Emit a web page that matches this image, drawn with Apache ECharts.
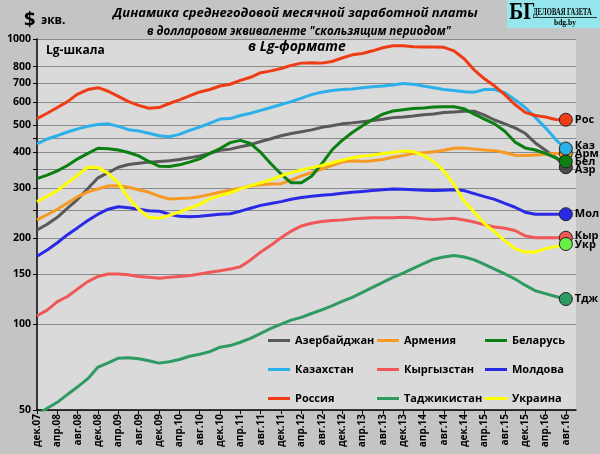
<!DOCTYPE html>
<html>
<head>
<meta charset="utf-8">
<script src="https://cdn.jsdelivr.net/npm/echarts@6.0.0/dist/echarts.min.js"></script>
<style>
  html, body { margin: 0; padding: 0; background: #c4c4c4; }
  #chart { width: 600px; height: 454px; }
</style>
</head>
<body>
<div id="chart"></div>
<script>
// категории: каждые 2 месяца, дек.07 ... авг.16 (+ одна пустая в конце)
var monthNames = ['дек', 'фев', 'апр', 'июн', 'авг', 'окт'];
var categories = [];
for (var i = 0; i < 54; i++) {
  var yy = 7 + Math.ceil(i / 6);
  categories.push(monthNames[i % 6] + '.' + (yy < 10 ? '0' + yy : yy));
}

// шкала Y (логарифм)
var gridTicks = [50, 100, 150, 200, 250, 300, 350, 400, 450, 500, 600, 700, 800, 1000];
var yLabels = [50, 100, 150, 200, 300, 400, 500, 600, 700, 800, 1000];

// данные, $ в месяц
var azer = [214, 224, 237, 255, 274, 299, 326, 340, 355, 363,
  367, 370, 372, 374, 378, 383, 389, 397, 407, 411,
  419, 426, 437, 447, 458, 466, 473, 480, 490, 496,
  504, 508, 513, 518, 523, 530, 533, 537, 542, 546,
  552, 555, 558, 558, 541, 520, 504, 488, 467, 432,
  407, 384, 355];
var arm = [232, 242, 253, 266, 280, 291, 298, 305, 306, 302,
  296, 290, 281, 275, 276, 277, 280, 285, 290, 295,
  300, 305, 308, 310, 311, 320, 331, 340, 350, 360,
  370, 374, 372, 374, 378, 385, 390, 397, 399, 402,
  407, 414, 415, 411, 408, 406, 400, 391, 390, 392,
  394, 397, 397];
var bel = [324, 333, 345, 360, 380, 397, 414, 412, 408, 400,
  389, 372, 358, 357, 362, 370, 380, 397, 413, 433,
  441, 430, 400, 365, 336, 313, 313, 330, 365, 408,
  441, 470, 496, 522, 545, 559, 565, 570, 573, 577,
  579, 579, 569, 545, 524, 504, 475, 435, 415, 408,
  397, 383, 372];
var kaz = [429, 446, 458, 472, 484, 494, 501, 504, 494, 481,
  476, 467, 458, 454, 463, 478, 491, 507, 524, 526,
  539, 549, 562, 575, 589, 603, 620, 638, 651, 660,
  665, 668, 675, 680, 684, 690, 698, 694, 684, 675,
  665, 660, 653, 651, 665, 665, 648, 612, 575, 531,
  488, 444, 413];
var kyr = [107, 112, 120, 125, 133, 141, 147, 150, 150, 149,
  147, 146, 145, 146, 147, 148, 150, 152, 154, 156,
  159, 168, 179, 189, 201, 212, 221, 226, 229, 231,
  232, 234, 235, 236, 236, 236, 237, 236, 234, 233,
  234, 235, 232, 228, 223, 219, 217, 213, 204, 201,
  201, 201, 201];
var mol = [173, 182, 193, 206, 218, 231, 243, 253, 258, 256,
  253, 250, 249, 243, 239, 238, 239, 241, 243, 244,
  249, 255, 261, 265, 269, 274, 278, 281, 283, 285,
  288, 290, 292, 294, 296, 298, 297, 296, 295, 294,
  295, 296, 294, 287, 280, 274, 265, 257, 247, 243,
  243, 243, 243];
var rus = [526, 549, 575, 603, 641, 665, 675, 656, 629, 603,
  585, 572, 575, 594, 612, 632, 652, 665, 684, 694,
  716, 734, 762, 773, 788, 808, 823, 825, 823, 834,
  858, 880, 889, 909, 932, 947, 947, 940, 938, 938,
  935, 909, 853, 778, 725, 684, 638, 589, 553, 539,
  533, 522, 521];
var taj = [48, 50.7, 53.2, 56.7, 60.3, 64.4, 70.7, 73.2, 76, 76.2,
  75.6, 74.4, 73, 73.8, 75.2, 77.2, 78.4, 80.1, 83, 84.1,
  86.4, 89.2, 92.8, 96.6, 100, 103.3, 105.6, 109, 112.3, 116,
  120.2, 124.2, 129.3, 134.6, 140.2, 146, 151, 157, 163, 169,
  172, 174, 172, 168, 162, 156, 150, 144, 137, 131,
  128, 125, 122.5];
var ukr = [269, 281, 294, 313, 333, 355, 354, 338, 313, 277,
  253, 237, 235, 241, 247, 255, 263, 275, 283, 289,
  298, 306, 313, 321, 331, 340, 347, 354, 360, 368,
  376, 383, 388, 391, 397, 400, 405, 403, 391, 372,
  344, 309, 270, 247, 225, 211, 196, 184, 179, 179,
  184, 187, 191];

var font = '"Open Sans", "Noto Sans", sans-serif';

function makeSeries(name, color, values, shortName, markerColor, dy) {
  var last = values.length - 1;
  return {
    name: name,
    type: 'line',
    data: values,
    symbol: 'none',
    lineStyle: { color: color, width: 3 },
    itemStyle: { color: color },
    markPoint: {
      symbol: 'circle',
      symbolSize: 13,
      silent: true,
      itemStyle: { color: markerColor, borderColor: '#222', borderWidth: 1 },
      label: {
        show: true, position: 'right', distance: 2,
        formatter: shortName, color: '#000',
        fontWeight: 'bold', fontSize: 11, fontFamily: font,
        offset: [0, dy]
      },
      data: [{ coord: [categories[last], values[last]] }]
    }
  };
}

var chart = echarts.init(document.getElementById('chart'));

var legendText = { color: '#000', fontWeight: 'bold', fontSize: 11, fontFamily: font };
function legendCol(names, left) {
  return {
    data: names, left: left, top: 335, orient: 'vertical',
    icon: 'rect', itemWidth: 22, itemHeight: 3, itemGap: 18, padding: 0,
    selectedMode: false, textStyle: legendText
  };
}

chart.setOption({
  backgroundColor: '#c4c4c4',
  animation: false,
  grid: {
    left: 37, right: 24, top: 39, bottom: 44,
    show: true, backgroundColor: '#dadada', borderWidth: 0
  },
  legend: [
    legendCol(['Азербайджан', 'Казахстан', 'Россия'], 268),
    legendCol(['Армения', 'Кыргызстан', 'Таджикистан'], 377),
    legendCol(['Беларусь', 'Молдова', 'Украина'], 485)
  ],
  xAxis: {
    type: 'category',
    data: categories,
    boundaryGap: false,
    axisLine: { lineStyle: { color: '#000', width: 1.5 } },
    axisTick: { interval: 1, length: 4, lineStyle: { color: '#000' } },
    axisLabel: {
      interval: 1, rotate: 90, margin: 4,
      color: '#000', fontSize: 10, fontWeight: 'bold', fontFamily: font
    },
    splitLine: { show: false }
  },
  yAxis: {
    type: 'log',
    logBase: 10,
    min: 50,
    max: 1000,
    axisLine: { show: true, lineStyle: { color: '#000', width: 1.5 } },
    axisTick: { show: true, customValues: gridTicks, length: 4, lineStyle: { color: '#000' } },
    axisLabel: {
      customValues: yLabels, margin: 6,
      formatter: function (v) { return String(v); },
      color: '#000', fontSize: 10.5, fontWeight: 'bold', fontFamily: font
    },
    splitLine: { show: true, lineStyle: { color: '#8a8a8a', width: 1 } }
  },
  graphic: [
    { type: 'text', left: 24, top: 10, style: { text: '$', font: 'bold 20px ' + font, fill: '#000' } },
    { type: 'text', left: 41, top: 15, style: { text: 'экв.', font: 'bold 12px ' + font, fill: '#000' } },
    { type: 'text', left: 113, top: 7, style: { text: 'Динамика среднегодовой месячной заработной платы', font: 'italic bold 13px ' + font, fill: '#000' } },
    { type: 'text', left: 147, top: 26, style: { text: 'в долларовом эквиваленте "скользящим периодом"', font: 'italic bold 11.5px ' + font, fill: '#000' } },
    { type: 'text', left: 46, top: 45, style: { text: 'Lg-шкала', font: 'bold 12px ' + font, fill: '#000' } },
    { type: 'text', left: 248, top: 40, style: { text: 'в Lg-формате', font: 'italic bold 14px ' + font, fill: '#000' } },
    { type: 'rect', shape: { x: 507, y: 0, width: 93, height: 28 }, style: { fill: '#96e6ee' } },
    { type: 'text', x: 509, y: 2, scaleX: 0.75, style: { text: 'БГ', font: 'bold 22px "DejaVu Serif", serif', fill: '#000' } },
    { type: 'text', x: 533, y: 7, scaleX: 0.66, style: { text: 'ДЕЛОВАЯ ГАЗЕТА', font: 'bold 10px "Liberation Serif", serif', fill: '#000' } },
    { type: 'rect', shape: { x: 533, y: 17, width: 64, height: 0.8 }, style: { fill: '#000' } },
    { type: 'text', x: 554, y: 19, style: { text: 'bdg.by', font: 'bold 7.5px "Liberation Serif", serif', fill: '#000' } }
  ],
  series: [
    makeSeries('Азербайджан', '#595959', azer, 'Азр', '#4a4a4a', 3),
    makeSeries('Армения', '#f79a24', arm, 'Арм', '#f79a24', 0),
    makeSeries('Беларусь', '#0b7f12', bel, 'Бел', '#0b7f12', 0),
    makeSeries('Казахстан', '#2cb0ea', kaz, 'Каз', '#2cb0ea', -3),
    makeSeries('Кыргызстан', '#f05858', kyr, 'Кыр', '#f05858', -2),
    makeSeries('Молдова', '#2a2ae6', mol, 'Мол', '#2a2ae6', 0),
    makeSeries('Россия', '#f03c14', rus, 'Рос', '#f03c14', 0),
    makeSeries('Таджикистан', '#2f9a62', taj, 'Тдж', '#2f9a62', 0),
    makeSeries('Украина', '#ffff00', ukr, 'Укр', '#66ee44', 1)
  ]
});
</script>
</body>
</html>
